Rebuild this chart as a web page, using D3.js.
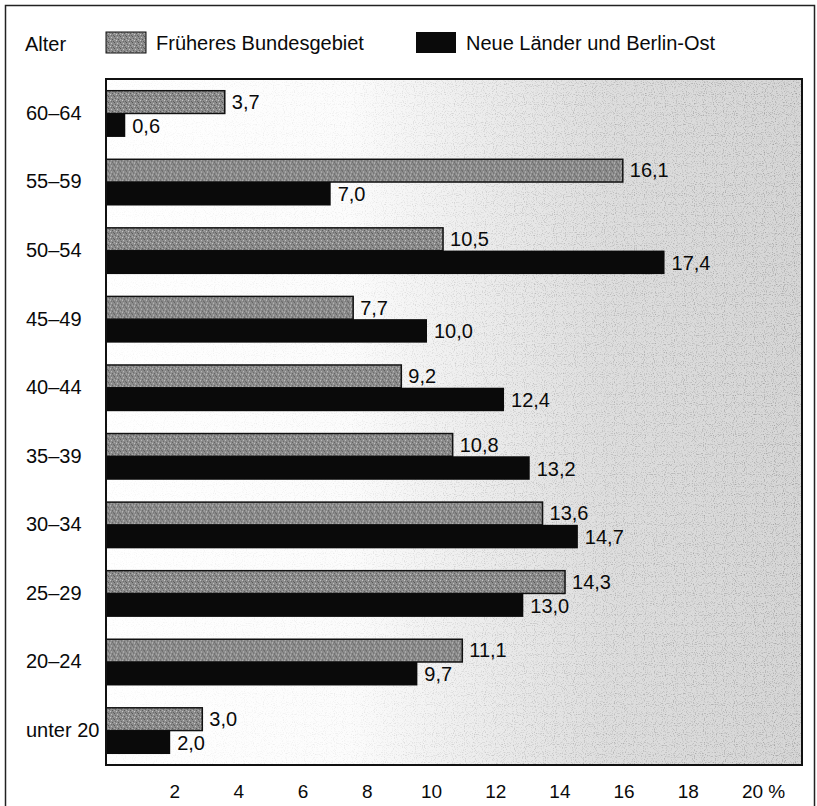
<!DOCTYPE html>
<html lang="de">
<head>
<meta charset="utf-8">
<title>Alter – Früheres Bundesgebiet / Neue Länder und Berlin-Ost</title>
<script src="https://cdn.jsdelivr.net/npm/d3@7"></script>
<style>
  html, body { margin: 0; padding: 0; background: #fff; }
  svg { display: block; font-family: "Liberation Sans", Arial, Helvetica, sans-serif; }
  text { fill: #0a0a0a; }
</style>
</head>
<body>
<div id="chart"></div>
<script>
// ---- Data (Anteile in %) ----
const ageGroups = ['60–64', '55–59', '50–54', '45–49', '40–44', '35–39', '30–34', '25–29', '20–24', 'unter 20'];
const westValues = [3.7, 16.1, 10.5, 7.7, 9.2, 10.8, 13.6, 14.3, 11.1, 3.0];
const eastValues = [0.6, 7.0, 17.4, 10.0, 12.4, 13.2, 14.7, 13.0, 9.7, 2.0];
const seriesNames = ['Früheres Bundesgebiet', 'Neue Länder und Berlin-Ost'];
const xTicks = [2, 4, 6, 8, 10, 12, 14, 16, 18, 20];

(function () {
  const W = 817, H = 806;
  const P = { left: 106, right: 802, top: 79, bottom: 765 };
  const fmt = v => v.toFixed(1).replace('.', ',');

  const svg = d3.select('#chart').append('svg')
    .attr('width', W).attr('height', H)
    .attr('viewBox', `0 0 ${W} ${H}`);

  const defs = svg.append('defs');

  // background: white on the left fading to grey on the right
  const grad = defs.append('linearGradient').attr('id', 'bg-grad')
    .attr('x1', '0%').attr('x2', '100%').attr('y1', '0%').attr('y2', '0%');
  [['0%', '#ffffff'], ['35%', '#fcfcfc'], ['52%', '#eeeeee'], ['72%', '#dedede'], ['100%', '#d6d6d6']]
    .forEach(([o, c]) => grad.append('stop').attr('offset', o).attr('stop-color', c));

  // grain used to mimic the printed screen
  const grain = defs.append('filter').attr('id', 'grain')
    .attr('x', 0).attr('y', 0).attr('width', '100%').attr('height', '100%');
  grain.append('feTurbulence').attr('type', 'fractalNoise')
    .attr('baseFrequency', 0.9).attr('numOctaves', 1).attr('seed', 7).attr('result', 'noise');
  grain.append('feColorMatrix').attr('in', 'noise').attr('type', 'matrix')
    .attr('values', '0 0 0 0 0  0 0 0 0 0  0 0 0 0 0  0 0 0 -3 1.45')
    .attr('result', 'dots');
  grain.append('feComposite').attr('in', 'dots').attr('in2', 'SourceGraphic').attr('operator', 'in');

  // light bar texture: mid grey with a fine dither
  const pat = defs.append('pattern').attr('id', 'west-fill')
    .attr('patternUnits', 'userSpaceOnUse').attr('width', 6).attr('height', 6);
  pat.append('rect').attr('width', 6).attr('height', 6).attr('fill', '#8c8c8c');
  [[0, 0, '#555'], [3, 1, '#c4c4c4'], [1, 2, '#666'], [4, 3, '#5a5a5a'],
   [2, 4, '#cbcbcb'], [5, 5, '#626262'], [0, 3, '#b0b0b0'], [3, 5, '#6e6e6e']]
    .forEach(([x, y, c]) => pat.append('rect').attr('x', x).attr('y', y)
      .attr('width', 1).attr('height', 1).attr('fill', c));

  // ---- Outer frame ----
  svg.append('rect').attr('x', 5.5).attr('y', 5.5).attr('width', W - 8).attr('height', H)
    .attr('fill', 'none').attr('stroke', '#222').attr('stroke-width', 1.5);

  // ---- Scales ----
  const x = d3.scaleLinear().domain([0, 1]).range([P.left, P.left + 32.1]);
  const y = d3.scaleBand().domain(ageGroups).range([P.top, P.bottom])
    .paddingInner(0.315).paddingOuter(0.16);
  const yInner = d3.scaleBand().domain(['west', 'east']).range([0, y.bandwidth()]);

  // ---- Plot background ----
  svg.append('rect')
    .attr('x', P.left).attr('y', P.top)
    .attr('width', P.right - P.left).attr('height', P.bottom - P.top)
    .attr('fill', 'url(#bg-grad)');
  const grainMask = defs.append('linearGradient').attr('id', 'grain-grad')
    .attr('x1', '0%').attr('x2', '100%');
  [['0%', 0.04], ['35%', 0.08], ['60%', 0.2], ['100%', 0.28]]
    .forEach(([o, a]) => grainMask.append('stop').attr('offset', o)
      .attr('stop-color', '#fff').attr('stop-opacity', a));
  defs.append('mask').attr('id', 'grain-mask')
    .append('rect').attr('x', P.left).attr('y', P.top)
    .attr('width', P.right - P.left).attr('height', P.bottom - P.top)
    .attr('fill', 'url(#grain-grad)');
  svg.append('rect')
    .attr('x', P.left).attr('y', P.top)
    .attr('width', P.right - P.left).attr('height', P.bottom - P.top)
    .attr('fill', '#909090').attr('filter', 'url(#grain)').attr('mask', 'url(#grain-mask)');

  // ---- Bars ----
  const rows = ageGroups.map((g, i) => ({ g, west: westValues[i], east: eastValues[i] }));
  const groups = svg.append('g').selectAll('g.row').data(rows).enter()
    .append('g').attr('class', 'row')
    .attr('transform', d => `translate(0,${y(d.g)})`);

  groups.append('rect')
    .attr('x', x(0)).attr('y', yInner('west') + 0.75)
    .attr('width', d => x(d.west) - x(0))
    .attr('height', yInner.bandwidth() - 0.75)
    .attr('fill', 'url(#west-fill)')
    .attr('stroke', '#111').attr('stroke-width', 1.5);

  groups.append('rect')
    .attr('x', x(0)).attr('y', yInner('east'))
    .attr('width', d => x(d.east) - x(0))
    .attr('height', yInner.bandwidth())
    .attr('fill', '#0a0a0a');

  // value labels
  groups.append('text')
    .attr('x', d => x(d.west) + 7)
    .attr('y', yInner('west') + yInner.bandwidth() / 2)
    .attr('dy', '0.36em').attr('font-size', 20)
    .text(d => fmt(d.west));
  groups.append('text')
    .attr('x', d => x(d.east) + 7)
    .attr('y', yInner('east') + yInner.bandwidth() / 2)
    .attr('dy', '0.38em').attr('font-size', 20)
    .text(d => fmt(d.east));

  // ---- Plot frame ----
  svg.append('rect')
    .attr('x', P.left).attr('y', P.top)
    .attr('width', P.right - P.left).attr('height', P.bottom - P.top)
    .attr('fill', 'none').attr('stroke', '#111').attr('stroke-width', 2);

  // ---- Axes ----
  const yAxis = svg.append('g')
    .attr('transform', 'translate(26,0)')
    .call(d3.axisLeft(y).tickSize(0).tickPadding(0));
  yAxis.select('.domain').remove();
  yAxis.selectAll('text')
    .attr('text-anchor', 'start').attr('x', 0)
    .attr('font-size', 20).attr('font-family', null).style('fill', '#0a0a0a');

  const xAxis = svg.append('g')
    .attr('transform', `translate(4,${P.bottom})`)
    .call(d3.axisBottom(x).tickValues(xTicks).tickSize(0).tickPadding(20)
      .tickFormat(d => d === 20 ? '20 %' : d));
  xAxis.select('.domain').remove();
  xAxis.selectAll('text')
    .attr('font-size', 19).attr('font-family', null).style('fill', '#0a0a0a')
    .filter(d => d === 20).attr('text-anchor', 'start').attr('dx', '-0.56em');

  // ---- Legend ----
  svg.append('text').attr('x', 25).attr('y', 51).attr('font-size', 20).text('Alter');
  const legend = svg.append('g');
  const legendItems = [
    { name: seriesNames[0], x: 106, fill: 'url(#west-fill)', stroke: '#111' },
    { name: seriesNames[1], x: 416, fill: '#0a0a0a', stroke: 'none' }
  ];
  legendItems.forEach(item => {
    legend.append('rect')
      .attr('x', item.x).attr('y', 32).attr('width', 40).attr('height', 21)
      .attr('fill', item.fill).attr('stroke', item.stroke).attr('stroke-width', 1);
    legend.append('text')
      .attr('x', item.x + 50).attr('y', 50).attr('font-size', 20)
      .text(item.name);
  });
})();
</script>
</body>
</html>
